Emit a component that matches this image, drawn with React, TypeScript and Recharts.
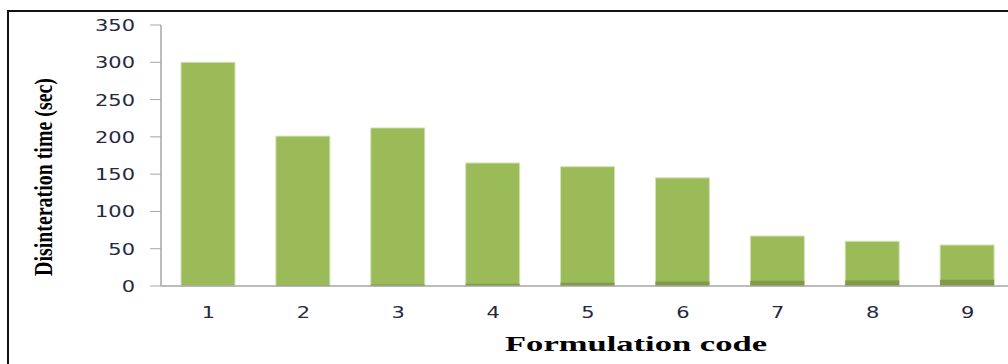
import { BarChart, Bar, XAxis, YAxis } from 'recharts';

// Values
const formulationCodes = ['1', '2', '3', '4', '5', '6', '7', '8', '9'];
const disintegrationTime = [300, 201, 212, 165, 160, 145, 67, 60, 55];
const baseSegment = [0, 1, 2, 3, 4.5, 6, 7, 7.5, 8.5];
const yTicks = [0, 50, 100, 150, 200, 250, 300, 350];

const data = formulationCodes.map((code, i) => ({
  code,
  time: disintegrationTime[i],
  base: baseSegment[i],
}));

const tickColor = '#26283f';

function YTick(props: any) {
  const { x, y, payload } = props;
  return (
    <text
      transform={`translate(${x},${y + 6}) scale(1.4,1)`}
      textAnchor="end"
      fontFamily="DejaVu Sans"
      fontSize={15}
      fill={tickColor}
    >
      {payload.value}
    </text>
  );
}

function XTick(props: any) {
  const { x, y, payload } = props;
  return (
    <text
      transform={`translate(${x},${y + 20}) scale(1.4,1)`}
      textAnchor="middle"
      fontFamily="DejaVu Sans"
      fontSize={15}
      fill={tickColor}
    >
      {payload.value}
    </text>
  );
}

export default function App() {
  return (
    <div
      style={{
        position: 'absolute',
        left: 0,
        top: 0,
        width: 1008,
        height: 364,
        overflow: 'hidden',
        background: '#fff',
      }}
    >
      {/* frame: only the top and left edges show in the crop */}
      <div
        style={{
          position: 'absolute',
          left: 7,
          top: 10,
          width: 1010,
          height: 360,
          borderLeft: '2px solid #111',
          borderTop: '2px solid #111',
        }}
      />
      <svg width={1008} height={364} style={{ position: 'absolute', left: 0, top: 0 }}>
        <text
          x={52}
          y={177}
          transform="rotate(-90, 52, 177)"
          textAnchor="middle"
          fontFamily="Liberation Serif"
          fontWeight="bold"
          fontSize={25}
          textLength={198}
          lengthAdjust="spacingAndGlyphs"
          fill="#000"
        >
          Disinteration time (sec)
        </text>
        <text
          x={636}
          y={351}
          textAnchor="middle"
          fontFamily="Liberation Serif"
          fontWeight="bold"
          fontSize={21}
          textLength={262}
          lengthAdjust="spacingAndGlyphs"
          fill="#000"
        >
          Formulation code
        </text>
      </svg>
      <div style={{ position: 'absolute', left: 0, top: 0 }}>
        <BarChart
          width={1030}
          height={364}
          data={data}
          margin={{ top: 25, right: 15, left: 0, bottom: 0 }}
          barSize={54}
          barGap={-54}
        >
          <XAxis
            dataKey="code"
            height={78}
            tickLine={false}
            tickSize={0}
            tickMargin={12}
            tick={<XTick />}
            axisLine={{ stroke: '#a6a6a6', strokeWidth: 1.5 }}
          />
          <YAxis
            width={161}
            domain={[0, 350]}
            ticks={yTicks}
            interval={0}
            tickSize={11}
            tickMargin={15}
            tick={<YTick />}
            tickLine={{ stroke: '#a6a6a6' }}
            axisLine={{ stroke: '#a6a6a6', strokeWidth: 1.5 }}
          />
          <Bar
            dataKey="time"
            fill="#9bbb59"
            stroke="#d3e2b8"
            strokeWidth={1}
            isAnimationActive={false}
          />
          <Bar dataKey="base" fill="#7f9a48" isAnimationActive={false} />
        </BarChart>
      </div>
    </div>
  );
}
